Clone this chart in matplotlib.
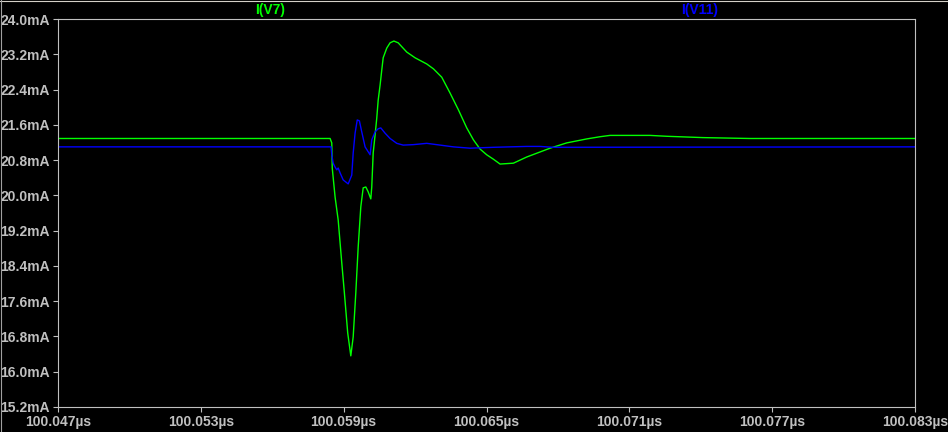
import matplotlib
matplotlib.use("Agg")
import matplotlib.pyplot as plt
from matplotlib.ticker import FixedLocator, FuncFormatter
from matplotlib.lines import Line2D

# ---- data (time in µs, current in mA) ----
t_v7 = [100.04700, 100.05843, 100.05850, 100.05852, 100.05864, 100.05877, 100.05892,
        100.05903, 100.05917, 100.05930, 100.05940, 100.05951, 100.05961, 100.05972,
        100.05982, 100.05993, 100.06003, 100.06014, 100.06018, 100.06024, 100.06032,
        100.06039, 100.06045, 100.06053, 100.06060, 100.06066, 100.06081, 100.06095,
        100.06111, 100.06129, 100.06165, 100.06200, 100.06249, 100.06277, 100.06312,
        100.06347, 100.06382, 100.06417, 100.06445, 100.06473, 100.06501, 100.06529,
        100.06557, 100.06613, 100.06669, 100.06767, 100.06837, 100.06921, 100.06977,
        100.07019, 100.07187, 100.07257, 100.07409, 100.07607, 100.08300]
i_v7 = [21.29, 21.29, 21.19, 20.62, 19.96, 19.44, 18.47, 17.79, 16.88, 16.36,
        16.79, 17.79, 18.83, 19.74, 20.17, 20.19, 20.08, 19.92, 20.19, 20.96,
        21.37, 21.75, 22.16, 22.50, 22.84, 23.12, 23.34, 23.46, 23.50, 23.46,
        23.25, 23.12, 22.98, 22.87, 22.68, 22.32, 21.94, 21.53, 21.26, 21.05,
        20.92, 20.82, 20.71, 20.73, 20.87, 21.07, 21.19, 21.28, 21.33, 21.36,
        21.36, 21.34, 21.31, 21.29, 21.29]

t_v11 = [100.04700, 100.05847, 100.05850, 100.05856, 100.05864, 100.05871, 100.05877,
         100.05885, 100.05898, 100.05919, 100.05934, 100.05940, 100.05948, 100.05957,
         100.05966, 100.05976, 100.05990, 100.06011, 100.06018, 100.06032, 100.06045,
         100.06056, 100.06074, 100.06095, 100.06123, 100.06150, 100.06192, 100.06249,
         100.06305, 100.06361, 100.06431, 100.06529, 100.06669, 100.06725, 100.06779,
         100.08300]
i_v11 = [21.10, 21.10, 20.92, 20.73, 20.64, 20.58, 20.62, 20.51, 20.35, 20.26,
         20.46, 20.96, 21.41, 21.71, 21.69, 21.44, 21.10, 20.92, 21.26, 21.44,
         21.51, 21.53, 21.41, 21.29, 21.18, 21.14, 21.15, 21.18, 21.14, 21.10,
         21.07, 21.09, 21.11, 21.11, 21.09, 21.10]

x_ticks = [100.047, 100.053, 100.059, 100.065, 100.071, 100.077, 100.083]
y_ticks = [15.2, 16.0, 16.8, 17.6, 18.4, 19.2, 20.0, 20.8, 21.6, 22.4, 23.2, 24.0]
trace_names = ["I(V7)", "I(V11)"]

# ---- figure ----
plt.rcParams['font.family'] = ['Liberation Sans', 'DejaVu Sans']
plt.rcParams['font.weight'] = 'bold'
W, H = 948, 432
fig = plt.figure(figsize=(W / 100, H / 100), dpi=100, facecolor='black')
ax = fig.add_axes([58 / W, (H - 407) / H, (915 - 58) / W, (407 - 19) / H], facecolor='black')

grey = '#c0c0c0'
ax.plot(t_v7, i_v7, color='#00ff00', lw=1.0, solid_joinstyle='round')
ax.plot(t_v11, i_v11, color='#0000ff', lw=1.0, solid_joinstyle='round')

ax.set_xlim(x_ticks[0], x_ticks[-1])
ax.set_ylim(y_ticks[0], y_ticks[-1])
ax.xaxis.set_major_locator(FixedLocator(x_ticks))
ax.yaxis.set_major_locator(FixedLocator(y_ticks))
ax.xaxis.set_major_formatter(FuncFormatter(lambda v, p: f"{v:.3f}µs"))
ax.yaxis.set_major_formatter(FuncFormatter(lambda v, p: f"{v:.1f}mA"))

for s in ax.spines.values():
    s.set_color(grey)
    s.set_linewidth(0.8)
ax.tick_params(direction='out', length=3.8, width=0.8, color=grey,
               labelcolor=grey, labelsize=10, pad=2)
for lab in ax.get_xticklabels() + ax.get_yticklabels():
    lab.set_fontweight('bold')

# trace titles
fig.text(270 / W, 1 - 10 / H, trace_names[0], color='#00ff00', fontsize=10,
         fontweight='bold', ha='center', va='center')
fig.text(700 / W, 1 - 10 / H, trace_names[1], color='#0000ff', fontsize=10,
         fontweight='bold', ha='center', va='center')

# window border (top and left)
fig.add_artist(Line2D([0, 1], [1 - 0.5 / H, 1 - 0.5 / H], transform=fig.transFigure,
                      color='#d4d0c8', lw=0.8))
fig.add_artist(Line2D([0.5 / W, 0.5 / W], [0, 1], transform=fig.transFigure,
                      color='#a0a0a0', lw=0.8))

fig.savefig('out.png', dpi=100, facecolor='black')
